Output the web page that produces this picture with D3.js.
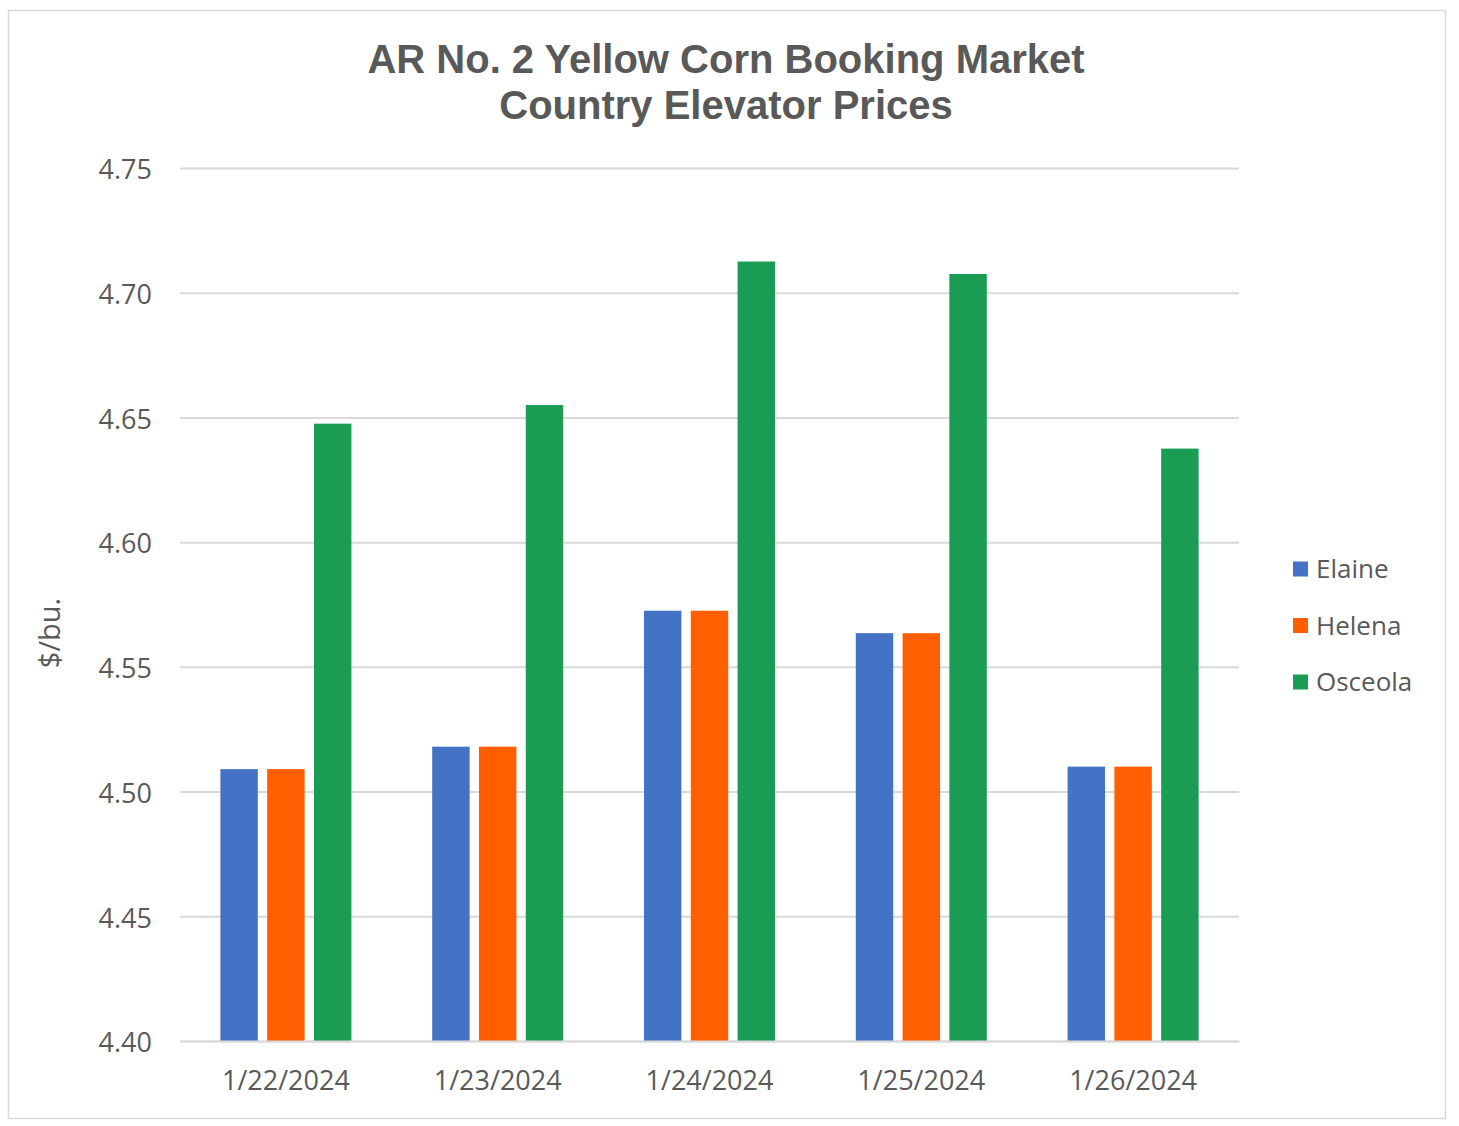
<!DOCTYPE html>
<html><head><meta charset="utf-8">
<script src="https://cdn.jsdelivr.net/npm/d3@7"></script>
<style>body{margin:0;background:#fff}</style>
</head><body>
<svg id="c" width="1459" height="1126"></svg>
<script>
const categories = ["1/22/2024","1/23/2024","1/24/2024","1/25/2024","1/26/2024"];
const seriesNames = ["Elaine","Helena","Osceola"];
const elaine  = [4.509, 4.518, 4.5725, 4.5635, 4.510];
const helena  = [4.509, 4.518, 4.5725, 4.5635, 4.510];
const osceola = [4.6475, 4.655, 4.7125, 4.7075, 4.6375];
const yTicks = [4.40,4.45,4.50,4.55,4.60,4.65,4.70,4.75];
const colors = ["#4472c4","#ff5f00","#1a9c55"];

const series = [elaine, helena, osceola];
const svg = d3.select("#c");
const font = "'Open Sans', 'Noto Sans', sans-serif";
const txt = "#595959";

svg.append("rect").attr("x",8.5).attr("y",10.5).attr("width",1437).attr("height",1108)
  .attr("fill","#fff").attr("stroke","#d9d9d9").attr("stroke-width",1.5);

const L=180, R=1239, T=168, B=1041;
const x = d3.scaleBand().domain(categories).range([L,R]).paddingInner(0).paddingOuter(0);
const y = d3.scaleLinear().domain([4.40,4.75]).range([B,T]);
const x1 = d3.scaleBand().domain(seriesNames).range([0,131]).paddingInner(0.2);

// title
const title = svg.append("text").attr("text-anchor","middle").attr("fill",txt)
  .attr("font-family","'Liberation Sans', Arial, sans-serif").attr("font-weight","bold").attr("font-size",40);
title.append("tspan").attr("x",726).attr("y",73).text("AR No. 2 Yellow Corn Booking Market");
title.append("tspan").attr("x",726).attr("y",119).text("Country Elevator Prices");

// gridlines
const yAxis = d3.axisLeft(y).tickValues(yTicks).tickFormat(d3.format(".2f")).tickSize(-(R-L)).tickPadding(28);
const gy = svg.append("g").attr("transform",`translate(${L},0)`).call(yAxis);
gy.select(".domain").remove();
gy.selectAll(".tick line").attr("stroke","#d9d9d9").attr("stroke-width",2);
gy.selectAll(".tick text").attr("fill",txt).attr("font-family",font).attr("font-size",27).attr("dy","0.4em");

// bars
const groups = svg.append("g").selectAll("g").data(categories).join("g")
  .attr("transform",d=>`translate(${x(d)+x.bandwidth()/2-65.5},0)`);
groups.selectAll("rect").data((d,i)=>seriesNames.map((s,j)=>({s,v:series[j][i],c:colors[j]})))
  .join("rect")
  .attr("x",d=>x1(d.s)).attr("width",x1.bandwidth())
  .attr("y",d=>y(d.v)).attr("height",d=>y(4.40)-y(d.v))
  .attr("fill",d=>d.c);

// x axis
const xAxis = d3.axisBottom(x).tickSize(0).tickPadding(30);
const gx = svg.append("g").attr("transform",`translate(0,${B})`).call(xAxis);
gx.select(".domain").attr("stroke","#d9d9d9").attr("stroke-width",2);
gx.selectAll(".tick text").attr("fill",txt).attr("font-family",font).attr("font-size",27);

// y title
svg.append("text").attr("transform","translate(60,633) rotate(-90)").attr("text-anchor","middle")
  .attr("fill",txt).attr("font-family",font).attr("font-size",29).text("$/bu.");

// legend
const lg = svg.append("g").selectAll("g").data(seriesNames).join("g")
  .attr("transform",(d,i)=>`translate(1293,${569+i*56.5})`);
lg.append("rect").attr("x",0).attr("y",-7.5).attr("width",15).attr("height",15).attr("fill",(d,i)=>colors[i]);
lg.append("text").attr("x",23).attr("y",0).attr("dy","0.35em").attr("fill",txt)
  .attr("font-family",font).attr("font-size",26).text(d=>d);
</script>
</body></html>
